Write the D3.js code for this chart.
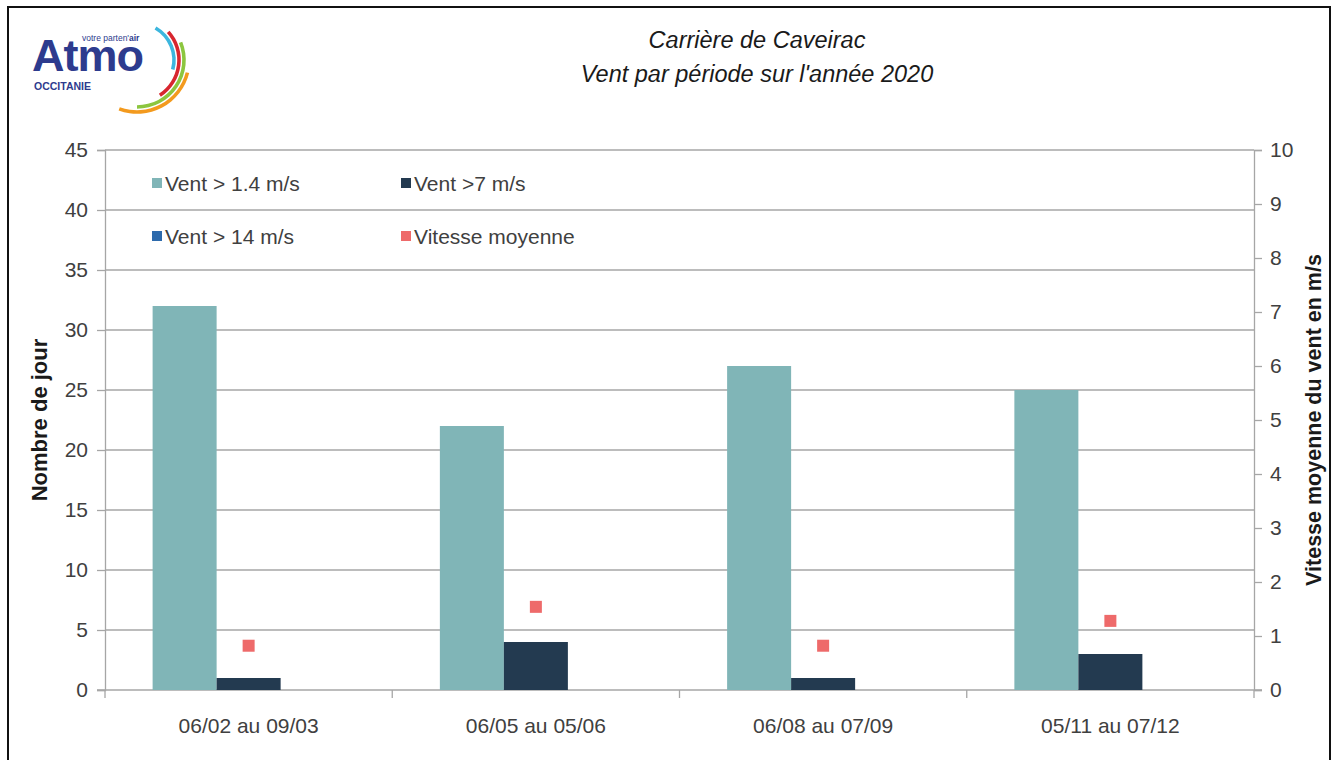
<!DOCTYPE html>
<html>
<head>
<meta charset="utf-8">
<script src="https://cdn.jsdelivr.net/npm/d3@7"></script>
<style>
  body { margin: 0; background: #fff; }
  svg { display: block; font-family: "Liberation Sans", Arial, sans-serif; }
</style>
</head>
<body>
<div id="container"></div>
<script>
/* DATA */
const periods = ["06/02 au 09/03", "06/05 au 05/06", "06/08 au 07/09", "05/11 au 07/12"];
const series = ["Vent > 1.4 m/s", "Vent >7 m/s", "Vent > 14 m/s"];
const vent14 = [32, 22, 27, 25];
const vent7 = [1, 4, 1, 3];
const vent14ms = [0, 0, 0, 0];
const vitesseMoyenne = [0.82, 1.54, 0.82, 1.28];
const leftTicks = [0, 5, 10, 15, 20, 25, 30, 35, 40, 45];
const rightTicks = [0, 1, 2, 3, 4, 5, 6, 7, 8, 9, 10];

/* CONSTANTS */
const width = 1338, height = 760;
const margin = {top: 150, bottom: 70, left: 105, right: 84};
const colors = ["#80b5b7", "#233a50", "#2d6aac"];
const pink = "#ee6a6a";

const svg = d3.select("#container").append("svg")
    .attr("width", width)
    .attr("height", height);

// outer frame
svg.append("rect")
    .attr("x", 8).attr("y", 7)
    .attr("width", 1322).attr("height", 760)
    .attr("fill", "none").attr("stroke", "#111").attr("stroke-width", 2);

// + SCALES
const xScale = d3.scaleBand()
    .domain(periods)
    .range([margin.left, width - margin.right])
    .padding(0);

const xInner = d3.scaleBand()
    .domain(series)
    .range([0, xScale.bandwidth()])
    .paddingInner(0)
    .paddingOuter(0.744);

const yScale = d3.scaleLinear().domain([0, 45]).range([height - margin.bottom, margin.top]);
const y2Scale = d3.scaleLinear().domain([0, 10]).range([height - margin.bottom, margin.top]);

// gridlines
svg.append("g")
    .selectAll("line")
    .data(leftTicks.slice(1))
    .join("line")
    .attr("x1", margin.left).attr("x2", width - margin.right)
    .attr("y1", d => yScale(d)).attr("y2", d => yScale(d))
    .attr("stroke", "#a6a6a6").attr("stroke-width", 1.3);

// + AXES
const yAxis = d3.axisLeft(yScale).tickValues(leftTicks).tickSize(8).tickPadding(9);
const y2Axis = d3.axisRight(y2Scale).tickValues(rightTicks).tickSize(8).tickPadding(8);

function styleAxis(g) {
  g.select(".domain").attr("stroke", "#a6a6a6").attr("stroke-width", 1.3);
  g.selectAll(".tick line").attr("stroke", "#a6a6a6").attr("stroke-width", 1.3);
  g.selectAll(".tick text").attr("fill", "#404040").attr("font-size", "21px")
    .attr("font-family", "Liberation Sans, Arial, sans-serif");
}

svg.append("g")
    .attr("transform", `translate(${margin.left},0)`)
    .call(yAxis)
    .call(styleAxis);

svg.append("g")
    .attr("transform", `translate(${width - margin.right},0)`)
    .call(y2Axis)
    .call(styleAxis);

// bottom axis line with ticks at band boundaries
const xAxisG = svg.append("g");
xAxisG.append("line")
    .attr("x1", margin.left - 8).attr("x2", width - margin.right + 8)
    .attr("y1", yScale(0)).attr("y2", yScale(0))
    .attr("stroke", "#a6a6a6").attr("stroke-width", 1.3);
xAxisG.selectAll("line.sep")
    .data(periods.slice(1))
    .join("line")
    .attr("class", "sep")
    .attr("x1", d => xScale(d)).attr("x2", d => xScale(d))
    .attr("y1", yScale(0)).attr("y2", yScale(0) + 8)
    .attr("stroke", "#a6a6a6").attr("stroke-width", 1.3);
xAxisG.selectAll("line.edge")
    .data([margin.left, width - margin.right])
    .join("line")
    .attr("class", "edge")
    .attr("x1", d => d).attr("x2", d => d)
    .attr("y1", yScale(0)).attr("y2", yScale(0) + 8)
    .attr("stroke", "#a6a6a6").attr("stroke-width", 1.3);
xAxisG.selectAll("text")
    .data(periods)
    .join("text")
    .attr("x", d => xScale(d) + xScale.bandwidth() / 2)
    .attr("y", yScale(0) + 43)
    .attr("text-anchor", "middle")
    .attr("fill", "#404040")
    .attr("font-size", "21px")
    .text(d => d);

// + BARS
const barData = [];
periods.forEach((p, i) => {
  [vent14[i], vent7[i], vent14ms[i]].forEach((v, j) => {
    barData.push({period: p, serie: series[j], value: v, color: colors[j]});
  });
});

svg.append("g")
    .selectAll("rect")
    .data(barData.filter(d => d.value > 0))
    .join("rect")
    .attr("x", d => xScale(d.period) + xInner(d.serie))
    .attr("width", xInner.bandwidth())
    .attr("y", d => yScale(d.value))
    .attr("height", d => yScale(0) - yScale(d.value))
    .attr("fill", d => d.color);

// + MARKERS (secondary axis)
const mk = 12;
svg.append("g")
    .selectAll("rect")
    .data(periods.map((p, i) => ({period: p, value: vitesseMoyenne[i]})))
    .join("rect")
    .attr("x", d => xScale(d.period) + xScale.bandwidth() / 2 - mk / 2)
    .attr("y", d => y2Scale(d.value) - mk / 2)
    .attr("width", mk).attr("height", mk)
    .attr("fill", pink);

// + LEGEND
const legendItems = [
  {label: series[0], color: colors[0], x: 152, y: 183},
  {label: series[1], color: colors[1], x: 401, y: 183},
  {label: series[2], color: colors[2], x: 152, y: 236},
  {label: "Vitesse moyenne", color: pink, x: 401, y: 236}
];
const lg = svg.append("g").selectAll("g").data(legendItems).join("g")
    .attr("transform", d => `translate(${d.x},${d.y})`);
lg.append("rect")
    .attr("x", 0).attr("y", -5).attr("width", 10).attr("height", 10)
    .attr("fill", d => d.color);
lg.append("text")
    .attr("x", 13).attr("y", 7.5)
    .attr("fill", "#404040").attr("font-size", "21px")
    .text(d => d.label);

// + TITLES
svg.append("text")
    .attr("x", 757).attr("y", 48)
    .attr("text-anchor", "middle").attr("font-style", "italic")
    .attr("font-size", "23.5px").attr("fill", "#1a1a1a")
    .text("Carrière de Caveirac");
svg.append("text")
    .attr("x", 757).attr("y", 82)
    .attr("text-anchor", "middle").attr("font-style", "italic")
    .attr("font-size", "23.5px").attr("fill", "#1a1a1a")
    .text("Vent par période sur l'année  2020");

svg.append("text")
    .attr("transform", `translate(47,${(yScale(0) + yScale(45)) / 2}) rotate(-90)`)
    .attr("text-anchor", "middle").attr("font-weight", "bold")
    .attr("font-size", "22px").attr("fill", "#1a1a1a")
    .text("Nombre de jour");
svg.append("text")
    .attr("transform", `translate(1321,${(yScale(0) + yScale(45)) / 2}) rotate(-90)`)
    .attr("text-anchor", "middle").attr("font-weight", "bold")
    .attr("font-size", "21.5px").attr("fill", "#1a1a1a")
    .text("Vitesse moyenne du vent en m/s");

// + LOGO
const logo = svg.append("g");
const arcs = [
  {r: 37, color: "#3cb6de", a0: 30, a1: 105},
  {r: 42, color: "#d8262f", a0: 48, a1: 147},
  {r: 47, color: "#8cc63f", a0: 68, a1: 180},
  {r: 52, color: "#f39a1e", a0: 104, a1: 200}
];
const arcGen = d3.arc();
logo.selectAll("path").data(arcs).join("path")
    .attr("transform", "translate(137,60)")
    .attr("d", d => arcGen({innerRadius: d.r - 1.8, outerRadius: d.r + 1.8,
                            startAngle: d.a0 * Math.PI / 180, endAngle: d.a1 * Math.PI / 180}))
    .attr("fill", d => d.color);
logo.append("text")
    .attr("x", 32).attr("y", 71)
    .attr("font-size", "45px").attr("font-weight", "bold")
    .attr("fill", "#2d3b8e").attr("letter-spacing", "-1px")
    .text("Atmo");
logo.append("text")
    .attr("x", 34).attr("y", 90)
    .attr("font-size", "10.5px").attr("font-weight", "bold")
    .attr("fill", "#2d3b8e")
    .text("OCCITANIE");
logo.append("text")
    .attr("x", 82).attr("y", 41)
    .attr("font-size", "8.5px")
    .attr("fill", "#2d3b8e")
    .html('votre parten\'<tspan font-weight="bold">air</tspan>');
</script>
</body>
</html>
